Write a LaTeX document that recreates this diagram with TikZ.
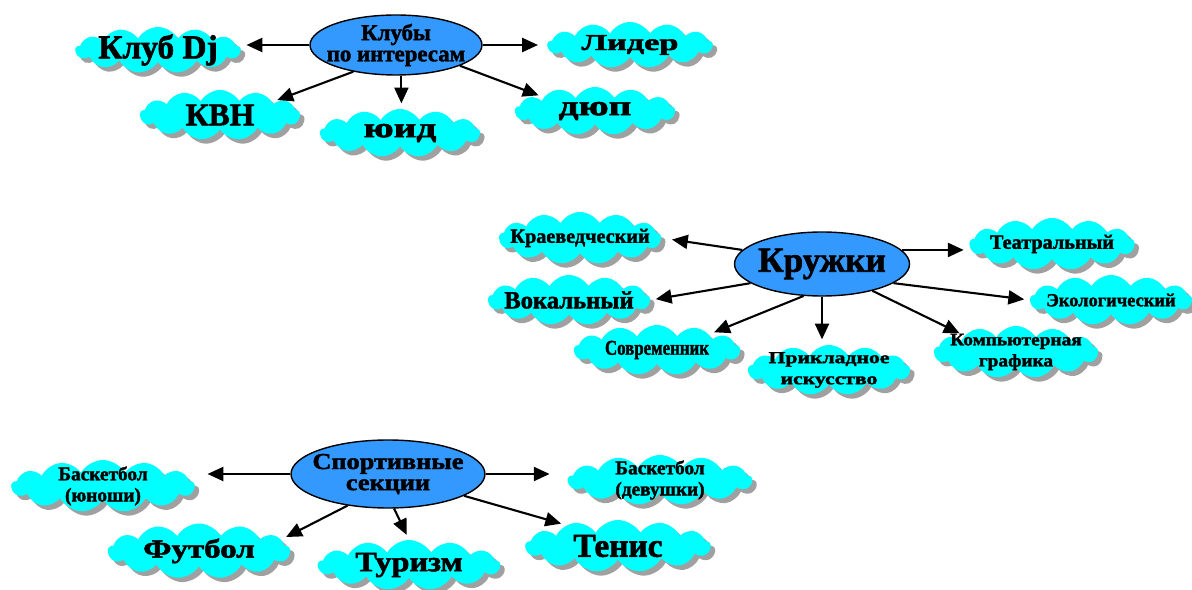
\documentclass[tikz,border=0pt]{standalone}
\usepackage{fontspec}
\setmainfont{Liberation Serif}[BoldFeatures={FakeBold=1.8}]
\usetikzlibrary{shapes.symbols,shapes.geometric,shadows,arrows.meta}
\definecolor{hubblue}{HTML}{3399FF}
\definecolor{cyancl}{HTML}{00FFFF}
\definecolor{shadowgray}{HTML}{A0A0A0}
\newcommand\fsz[1]{\fontsize{#1}{#1}\selectfont}
\newcommand\xwide[2]{\scalebox{#1}[1]{#2}}
\tikzset{
  puff/.style={cloud, cloud puffs=13, cloud puff arc=120, cloud ignores aspect,
    fill=cyancl, draw=none, inner sep=0pt,
    minimum width=3.25cm, minimum height=1cm,
    drop shadow={shadow xshift=2.5pt, shadow yshift=-2.5pt, fill=shadowgray, opacity=1}},
  hub/.style={ellipse, draw=black, thick, fill=hubblue, inner sep=0pt},
  tag/.style={align=center, inner sep=0pt, font=\bfseries},
  arr/.style={->, line width=1.2pt, shorten >=3pt}
}
\begin{document}
\begin{tikzpicture}[x=0.02cm, y=-0.02cm, >={Triangle[length=9pt,width=8pt]}, font=\bfseries]
\useasboundingbox (0,0) rectangle (1192,590);
% clubs
\node[hub, minimum width=3.44cm, minimum height=1.2cm, label={[tag]center:\fsz{13}Клубы\\\fsz{13}по интересам}] (kl) at (396,45) {};
\node[puff, minimum width=3.3cm, minimum height=0.92cm, label={[tag]center:\fsz{19}Клуб Dj}] (dj) at (158,50) {};
\node[puff, minimum width=3.3cm, minimum height=0.92cm, label={[tag]center:\fsz{13}\xwide{1.5}{Лидер}}] (lid) at (630,45) {};
\node[puff, minimum width=3.2cm, label={[tag]center:\fsz{18}КВН}] (kvn) at (220,115) {};
\node[puff, minimum width=3.2cm, minimum height=0.96cm, label={[tag]center:\fsz{16}\xwide{1.4}{юид}}] (yuid) at (400,133) {};
\node[puff, minimum width=3.2cm, minimum height=0.96cm, label={[tag]center:\fsz{16}\xwide{1.4}{дюп}}] (dup) at (595,111) {};
\draw[arr] (kl.west) -- (kl.west -| dj.east);
\draw[arr, shorten >=5pt] (kl.east) -- (kl.east -| lid.west);
\draw[arr] (kl.212) -- (kvn.14);
\draw[arr] (kl.-80) -- (kl.-80 |- yuid.north);
\draw[arr] (kl.-18) -- (dup.165);
% circles
\node[hub, minimum width=3.5cm, minimum height=1.28cm, label={[tag]center:\fsz{20}Кружки}] (kr) at (822,264) {};
\node[puff, minimum width=3.24cm, minimum height=1.04cm, label={[tag]center:\fsz{11.5}Краеведческий}] (kraev) at (580,238) {};
\node[puff, minimum width=3.3cm, minimum height=1.04cm, label={[tag]center:\fsz{11.5}Театральный}] (teatr) at (1052,244) {};
\node[puff, minimum width=3.24cm, label={[tag]center:\fsz{14}Вокальный}] (vokal) at (569,300) {};
\node[puff, minimum width=3.24cm, label={[tag]center:\fsz{10.5}Экологический}] (ekol) at (1111,300) {};
\node[puff, minimum width=3.32cm, label={[tag]center:\fsz{12}\xwide{0.8}{Современник}}] (sovr) at (657,350) {};
\node[puff, minimum width=3.24cm, label={[tag]center:\fsz{9.5}\xwide{1.3}{Прикладное}\\\fsz{9.5}\xwide{1.3}{искусство}}] (prikl) at (829,370) {};
\node[puff, minimum width=3.28cm, minimum height=1.04cm, label={[tag]center:\fsz{10}\xwide{1.1}{Компьютерная}\\\fsz{10}\xwide{1.1}{графика}}] (komp) at (1016,352) {};
\draw[arr, shorten >=6pt] (kr.170) -- (kraev.east);
\draw[arr] (kr.10) -- (kr.10 -| teatr.west);
\draw[arr] (kr.195) -- (vokal.east);
\draw[arr] (kr.-15) -- (ekol.west);
\draw[arr] (kr.240) -- (sovr.north east);
\draw[arr] (kr.south) -- (kr.south |- prikl.north);
\draw[arr] (kr.-28) -- (komp.north west);
% sports
\node[hub, minimum width=3.88cm, minimum height=1.36cm, label={[tag]center:\fsz{13}\xwide{1.15}{Спортивные}\\\fsz{13}\xwide{1.15}{секции}}] (sp) at (388,474) {};
\node[puff, minimum width=3.66cm, minimum height=1.04cm, label={[tag]center:\fsz{11}Баскетбол\\\fsz{11}(юноши)}] (bkm) at (103,486) {};
\node[puff, minimum width=3.68cm, label={[tag]center:\fsz{11}Баскетбол\\\fsz{11}(девушки)}] (bkw) at (660,480) {};
\node[puff, minimum width=3.64cm, minimum height=1.1cm, label={[tag]center:\fsz{15}\xwide{1.25}{Футбол}}] (fut) at (199,551) {};
\node[puff, minimum width=3.64cm, label={[tag]center:\fsz{16}\xwide{1.15}{Туризм}}] (tur) at (409,565) {};
\node[puff, minimum width=3.7cm, minimum height=1.04cm, label={[tag]center:\fsz{19}Тенис}] (ten) at (618,546) {};
\draw[arr, shorten >=7pt] (sp.west) -- (sp.west -| bkm.east);
\draw[arr, shorten >=10pt] (sp.east) -- (sp.east -| bkw.west);
\draw[arr] (sp.218) -- (fut.8);
\draw[arr] (sp.-80) -- (tur.north);
\draw[arr] (sp.-16) -- (ten.158);
\end{tikzpicture}
\end{document}
